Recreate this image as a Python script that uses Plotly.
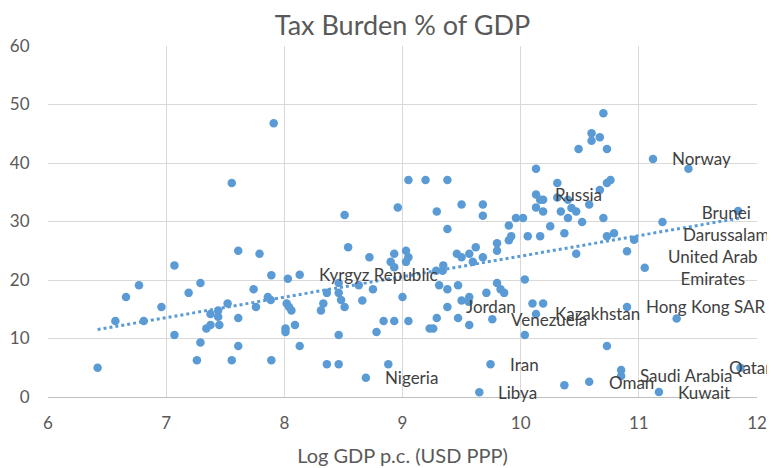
import numpy as np
import plotly.graph_objects as go

# log GDP per capita (USD PPP) and tax burden (% of GDP)
gdp = [
    7.91, 7.555, 7.61, 7.79, 7.07, 7.89, 8.03, 8.13, 6.77, 7.29,
    6.66, 7.19, 7.74, 7.86, 7.885, 6.96, 7.52, 7.76, 8.02, 8.04,
    8.06, 6.57, 6.81, 7.375, 7.44, 7.44, 7.45, 7.375, 7.34, 7.61,
    8.01, 8.01, 8.09, 7.07, 7.29, 7.61, 8.13, 7.26, 7.555, 7.89,
    6.42, 10.13, 9.05, 9.195, 9.38, 10.13, 10.13, 8.51, 8.96, 9.50,
    9.68, 9.68, 9.29, 9.38, 9.96, 10.02, 9.90, 9.90, 9.92, 10.06,
    10.165, 9.80, 9.80, 9.62, 9.565, 9.68, 9.46, 9.50, 9.595, 8.54,
    8.72, 8.93, 8.90, 8.93, 9.03, 9.05, 9.03, 9.345, 9.285, 9.34,
    8.46, 8.36, 8.46, 8.63, 8.75, 8.33, 8.31, 8.48, 8.51, 8.66,
    9.00, 9.31, 9.38, 9.47, 9.50, 9.565, 9.71, 9.80, 9.83, 9.86,
    10.035, 9.38, 8.84, 8.93, 9.05, 9.29, 9.47, 9.565, 9.76, 9.23,
    9.26, 8.78, 8.46, 10.035, 8.36, 8.46, 8.88, 9.745, 8.69, 9.65,
    10.70, 10.60, 10.67, 10.60, 10.49, 10.73, 11.12, 11.42, 10.31, 10.76,
    10.73, 10.67, 10.165, 10.19, 10.31, 10.40, 10.58, 10.19, 10.34, 10.43,
    10.47, 10.40, 10.52, 10.70, 10.25, 10.37, 10.73, 10.79, 11.20, 11.84,
    10.96, 10.90, 10.47, 11.05, 10.10, 10.19, 10.13, 10.90, 11.32, 10.73,
    10.85, 10.85, 10.58, 10.37, 11.17, 11.86, 9.56,
]
tax = [
    46.8, 36.6, 25.0, 24.5, 22.5, 20.8, 20.2, 20.9, 19.1, 19.5,
    17.1, 17.8, 18.4, 17.1, 16.6, 15.4, 16.0, 15.4, 16.0, 15.4,
    14.8, 13.0, 13.0, 14.2, 14.8, 13.7, 12.3, 12.3, 11.7, 13.5,
    11.7, 11.1, 12.3, 10.6, 9.3, 8.7, 8.7, 6.3, 6.3, 6.3,
    5.0, 39.0, 37.1, 37.1, 37.1, 34.6, 32.4, 31.1, 32.4, 32.9,
    32.9, 31.0, 31.7, 28.7, 30.6, 30.6, 29.3, 26.8, 27.5, 27.5,
    27.5, 26.3, 25.0, 25.6, 24.5, 23.9, 24.5, 23.9, 23.1, 25.6,
    23.9, 24.5, 23.1, 22.2, 25.0, 23.9, 23.1, 22.5, 21.6, 21.6,
    19.5, 17.8, 17.8, 19.1, 18.4, 16.0, 14.8, 16.6, 15.4, 16.5,
    17.1, 19.1, 18.4, 19.1, 16.5, 17.1, 17.8, 19.5, 18.4, 17.8,
    20.1, 15.4, 13.0, 13.0, 13.0, 13.5, 13.5, 12.3, 13.3, 11.7,
    11.7, 11.1, 10.6, 10.6, 5.6, 5.6, 5.6, 5.6, 3.3, 0.8,
    48.5, 45.1, 44.4, 43.8, 42.4, 42.4, 40.7, 39.0, 36.6, 37.1,
    36.6, 35.4, 33.7, 33.7, 34.1, 33.7, 32.9, 31.7, 31.7, 32.3,
    31.7, 30.6, 29.9, 30.6, 29.2, 28.0, 27.5, 28.0, 29.9, 31.8,
    26.9, 24.9, 24.5, 22.1, 16.0, 16.0, 14.2, 15.4, 13.4, 8.7,
    3.6, 4.6, 2.6, 2.0, 0.85, 5.0, 16.3,
]

# labelled countries (index into the arrays above)
label_names = [
    "Kyrgyz Republic", "Russia", "Jordan", "Venezuela", "Iran", "Nigeria",
    "Libya", "Norway", "Brunei<br>Darussalam", "United Arab<br>Emirates",
    "Kazakhstan", "Hong Kong SAR", "Saudi Arabia", "Oman", "Kuwait", "Qatar",
]
label_idx = [7, 45, 101, 108, 117, 118, 119, 126, 149, 153, 156, 157, 160, 161, 164, 165]

# label placement tweaks (pixels)
label_style = {
    "Brunei<br>Darussalam": dict(xanchor="center", xshift=-12, yshift=-13),
    "United Arab<br>Emirates": dict(xanchor="center", xshift=68, yshift=0),
    "Oman": dict(xanchor="left", xshift=-14, yshift=-12),
    "Qatar": dict(xanchor="left", xshift=-13, yshift=0),
}

grey = "#595959"
blue = "#5b9bd5"
font = "Lato"

slope, intercept = np.polyfit(gdp, tax, 1)
tx = np.array([min(gdp), max(gdp)])
ty = slope * tx + intercept

fig = go.Figure()
fig.add_trace(go.Scatter(
    x=gdp, y=tax, mode="markers",
    marker=dict(color=blue, size=8.5),
    showlegend=False, hoverinfo="x+y",
))
fig.add_trace(go.Scatter(
    x=tx, y=ty, mode="lines",
    line=dict(color=blue, width=3, dash="dot"),
    showlegend=False, hoverinfo="skip",
))

for name, i in zip(label_names, label_idx):
    st = label_style.get(name, dict(xanchor="left", xshift=17, yshift=0))
    fig.add_annotation(
        x=gdp[i], y=tax[i], text=name, showarrow=False,
        font=dict(family=font, size=17, color="#404040"),
        yanchor="middle", **st,
    )

# page body adds an 8px margin, so the figure is offset by that much
fig.update_layout(
    width=767, height=462,
    margin=dict(l=40, r=18, t=38, b=73),
    paper_bgcolor="white", plot_bgcolor="white",
    font=dict(family=font, color=grey),
    title=dict(text="Tax Burden % of GDP", x=0.5, xref="paper",
               y=0.963, yanchor="middle",
               font=dict(family=font, size=27, color=grey)),
)
fig.update_xaxes(
    range=[6, 12], dtick=1, showgrid=True, gridcolor="#d9d9d9",
    zeroline=False, showline=True, linecolor="#bfbfbf", mirror=False,
    tickfont=dict(size=17, color=grey), ticks="outside", ticklen=11,
    tickcolor="rgba(0,0,0,0)", automargin=False,
    title=dict(text="Log GDP p.c. (USD PPP)", font=dict(size=20, color=grey),
               standoff=16),
)
fig.update_yaxes(
    range=[0, 60], dtick=10, showgrid=True, gridcolor="#d9d9d9",
    zeroline=False, showline=False, automargin=False,
    tickfont=dict(size=17, color=grey), ticks="outside", ticklen=14,
    tickcolor="rgba(0,0,0,0)",
)

fig.write_html("out.html")
